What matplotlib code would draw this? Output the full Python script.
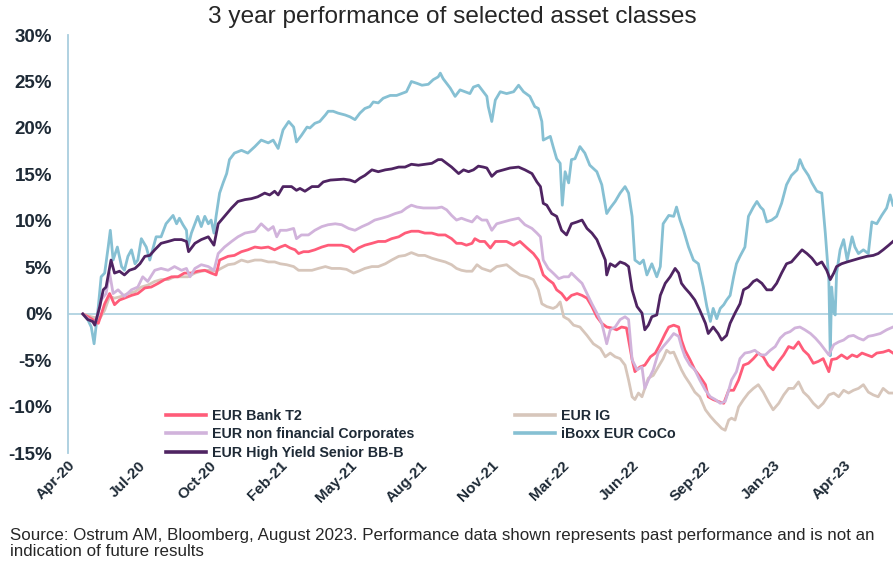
import matplotlib
matplotlib.use('Agg')
import matplotlib.pyplot as plt
from matplotlib.lines import Line2D
from matplotlib.transforms import ScaledTranslation

plt.rcParams['font.family'] = ['Liberation Sans', 'DejaVu Sans']

# ---------------- data (x = days after first axis tick, y = % performance) -------------
TICK_LABELS = ['Apr-20', 'Jul-20', 'Oct-20', 'Feb-21', 'May-21', 'Aug-21', 'Nov-21',
               'Mar-22', 'Jun-22', 'Sep-22', 'Jan-23', 'Apr-23']
TICK_DAYS = [0, 100, 200, 300, 400, 500, 600, 700, 800, 900, 1000, 1100]

coco_days = [21, 28, 33, 37, 43, 47, 52, 57, 60, 64, 70, 76, 80, 85, 90, 95, 99, 104, 111, 116,
             121, 125, 132, 139, 149, 154, 158, 163, 168, 170, 175, 180, 184, 189, 194, 199, 203,
             207, 210, 215, 220, 225, 229, 236, 246, 255, 265, 274, 284, 291, 298, 305, 313, 320,
             324, 331, 339, 343, 350, 357, 365, 369, 376, 383, 393, 400, 407, 414, 421, 428, 433,
             440, 447, 457, 466, 473, 480, 487, 495, 502, 511, 518, 525, 528, 532, 537, 542, 549,
             556, 563, 570, 575, 582, 589, 594, 596, 601, 606, 613, 622, 632, 639, 646, 655, 662,
             667, 672, 674, 679, 684, 688, 693, 698, 701, 705, 710, 714, 719, 726, 733, 740, 750,
             757, 764, 769, 776, 783, 790, 795, 800, 804, 811, 816, 821, 828, 835, 840, 844, 852,
             859, 863, 868, 873, 880, 887, 894, 901, 906, 911, 915, 920, 925, 930, 934, 939, 944,
             948, 953, 960, 965, 972, 977, 982, 986, 991, 998, 1005, 1012, 1019, 1026, 1034, 1038,
             1043, 1050, 1055, 1062, 1069, 1074, 1079, 1081, 1083, 1086, 1088, 1090, 1095, 1100,
             1105, 1112, 1116, 1121, 1128, 1135, 1140, 1147, 1154, 1161, 1166, 1170]
coco_vals = [0.0, -0.6, -1.4, -3.2, 0.8, 4.0, 4.4, 7.2, 9.0, 5.8, 7.2, 5.1, 4.7, 6.2, 6.9, 5.4, 5.8,
             8.1, 7.2, 5.8, 7.2, 8.3, 8.3, 9.7, 10.6, 9.7, 10.3, 9.6, 9.0, 7.2, 8.7, 9.7, 10.5, 9.4,
             10.5, 9.7, 10.1, 8.7, 10.5, 13.0, 14.1, 15.1, 16.6, 17.3, 17.6, 17.3, 18.0, 18.7, 18.4,
             18.7, 17.8, 19.8, 20.7, 20.1, 18.5, 19.2, 20.1, 20.0, 20.5, 20.7, 21.4, 21.8, 21.8, 21.6,
             21.4, 21.2, 20.9, 21.6, 22.1, 22.3, 22.8, 22.7, 23.2, 23.5, 23.5, 23.7, 23.9, 25.0, 24.8,
             24.6, 24.7, 25.2, 25.5, 25.9, 25.3, 24.8, 24.3, 23.4, 24.1, 23.9, 23.7, 24.4, 24.6, 23.9,
             23.4, 22.3, 20.7, 23.0, 23.9, 23.7, 23.9, 24.6, 23.9, 23.4, 22.3, 22.1, 20.7, 18.7, 18.9,
             19.1, 18.0, 16.7, 16.2, 11.7, 15.3, 14.1, 16.6, 16.7, 18.0, 17.3, 16.0, 15.3, 13.9, 10.8,
             11.4, 12.1, 13.0, 13.7, 13.0, 10.5, 5.8, 5.4, 5.8, 4.2, 5.4, 4.0, 5.1, 9.7, 10.6, 10.5,
             11.5, 10.1, 9.0, 7.2, 5.8, 5.4, 2.9, 0.8, -0.8, 0.6, -0.5, 0.6, 1.0, 1.5, 2.0, 4.0, 5.4,
             6.2, 7.2, 10.5, 11.5, 12.1, 11.5, 11.2, 9.9, 10.1, 10.5, 11.9, 13.9, 14.9, 15.5, 16.6,
             15.7, 14.9, 14.1, 13.2, 13.0, 8.7, 3.7, -4.5, 2.9, 0.2, -0.1, 4.4, 6.9, 8.0, 5.8, 8.3,
             7.2, 6.5, 6.9, 6.5, 9.9, 9.7, 10.6, 11.4, 12.8, 11.7]

hy_days = [21, 28, 35, 38, 45, 50, 54, 61, 66, 73, 80, 87, 95, 102, 109, 116, 123, 132, 142, 151,
           161, 168, 171, 180, 189, 199, 207, 213, 222, 232, 241, 251, 260, 269, 279, 286, 293, 298,
           305, 317, 324, 329, 336, 346, 355, 362, 372, 391, 400, 407, 414, 421, 431, 440, 450, 459,
           469, 478, 487, 497, 506, 516, 525, 530, 537, 544, 554, 561, 568, 575, 582, 589, 594, 601,
           608, 627, 639, 648, 658, 665, 670, 674, 679, 686, 693, 700, 707, 714, 722, 729, 736, 743,
           750, 757, 762, 764, 769, 776, 783, 790, 795, 800, 807, 814, 818, 823, 828, 835, 840, 847,
           854, 861, 866, 870, 875, 882, 889, 896, 904, 908, 915, 922, 927, 934, 939, 946, 953, 958,
           965, 972, 977, 984, 991, 998, 1005, 1012, 1019, 1026, 1034, 1041, 1048, 1055, 1062, 1069,
           1076, 1081, 1086, 1090, 1097, 1105, 1114, 1123, 1133, 1142, 1149, 1156, 1164, 1170]
hy_vals = [0.0, -0.6, -0.8, -1.2, 0.8, 2.6, 2.9, 5.8, 4.4, 4.6, 4.2, 4.7, 4.9, 5.4, 6.2, 6.3, 6.9,
           7.6, 7.8, 8.0, 8.0, 7.8, 6.7, 7.6, 8.0, 8.3, 7.4, 9.7, 10.5, 11.4, 12.1, 12.3, 12.4, 12.6,
           13.0, 12.8, 13.2, 12.8, 13.7, 13.7, 13.3, 13.5, 13.2, 13.7, 13.7, 14.2, 14.4, 14.5, 14.4,
           14.2, 14.6, 14.9, 15.5, 15.3, 15.5, 15.6, 15.8, 15.8, 16.1, 16.0, 16.1, 16.2, 16.6, 16.6,
           16.2, 15.8, 15.1, 15.5, 15.3, 15.5, 15.9, 15.8, 15.7, 14.8, 15.3, 15.7, 15.8, 15.5, 15.1,
           14.2, 13.7, 11.9, 11.7, 10.8, 10.5, 9.0, 8.5, 9.7, 9.9, 10.1, 9.2, 8.7, 8.0, 6.7, 5.8, 4.2,
           5.4, 5.1, 5.6, 5.4, 5.1, 2.6, 0.8, 0.1, -1.7, -1.2, -0.3, -0.1, 2.0, 3.3, 4.0, 4.9, 4.4,
           3.3, 2.8, 2.2, 1.5, 0.4, -1.0, -2.1, -1.4, -2.1, -2.8, -2.3, -1.0, 0.1, 1.1, 2.6, 2.9, 3.5,
           3.7, 3.3, 2.6, 2.6, 3.3, 4.4, 5.4, 5.6, 6.3, 6.9, 6.5, 6.0, 5.3, 5.6, 4.7, 3.7, 4.4, 5.1,
           5.4, 5.6, 5.8, 6.0, 6.2, 6.3, 6.5, 6.9, 7.4, 7.8]

nonfin_days = [21, 28, 38, 43, 47, 54, 59, 64, 71, 80, 90, 99, 106, 113, 123, 132, 142, 151, 161,
               168, 173, 180, 189, 199, 207, 213, 222, 232, 241, 251, 265, 274, 284, 291, 296, 301,
               310, 320, 324, 331, 341, 350, 360, 369, 379, 388, 398, 407, 417, 426, 435, 445, 454,
               464, 473, 480, 487, 495, 504, 513, 523, 530, 537, 544, 551, 558, 565, 573, 580, 587,
               594, 601, 608, 627, 639, 648, 658, 665, 670, 674, 681, 688, 696, 703, 710, 714, 722,
               729, 736, 743, 750, 757, 764, 769, 776, 783, 790, 795, 800, 807, 814, 818, 823, 830,
               837, 844, 852, 859, 866, 870, 875, 882, 889, 896, 904, 911, 918, 925, 932, 937, 941,
               948, 953, 960, 967, 974, 982, 989, 996, 1003, 1010, 1017, 1024, 1031, 1038, 1045,
               1053, 1060, 1067, 1074, 1079, 1086, 1093, 1100, 1107, 1114, 1121, 1128, 1135, 1142,
               1152, 1161, 1170]
nonfin_vals = [0.0, -0.5, -1.0, 0.1, 1.5, 2.2, 4.4, 2.2, 2.6, 1.9, 2.6, 2.9, 4.0, 3.5, 4.7, 4.9,
               4.7, 5.1, 4.7, 4.9, 4.0, 4.9, 5.3, 5.1, 4.7, 6.5, 7.2, 7.8, 8.3, 8.7, 8.9, 9.7, 9.0,
               9.4, 8.3, 9.0, 9.0, 9.2, 8.1, 8.5, 8.5, 9.0, 9.4, 9.6, 9.7, 9.6, 9.2, 9.0, 9.4, 9.7,
               10.1, 10.3, 10.5, 10.8, 11.0, 11.4, 11.7, 11.5, 11.4, 11.4, 11.4, 11.5, 11.2, 10.6,
               10.1, 10.3, 10.1, 9.9, 10.5, 10.1, 10.1, 9.0, 9.7, 10.1, 10.3, 9.6, 9.2, 8.7, 8.3, 5.8,
               4.9, 4.4, 3.8, 4.0, 4.0, 4.4, 3.8, 3.3, 2.2, 1.1, 0.1, -1.0, -3.2, -1.7, -1.4, -0.6,
               -0.3, -0.6, -4.9, -6.0, -5.7, -8.0, -7.1, -6.0, -4.2, -3.5, -2.8, -2.1, -2.4, -3.5,
               -4.6, -5.5, -6.0, -7.1, -8.2, -8.9, -9.2, -9.6, -9.4, -8.2, -7.1, -6.2, -4.8, -4.2,
               -4.1, -3.9, -4.4, -4.4, -3.9, -3.5, -2.6, -2.1, -1.9, -1.5, -1.4, -1.7, -2.1, -2.6,
               -3.2, -3.9, -4.4, -3.3, -3.0, -2.8, -2.4, -2.3, -2.6, -2.8, -2.4, -2.3, -2.1, -1.7,
               -1.4]

t2_days = [21, 33, 43, 52, 59, 66, 73, 80, 90, 99, 109, 118, 128, 137, 147, 156, 165, 175, 184,
           194, 203, 210, 215, 227, 236, 246, 255, 265, 274, 284, 293, 301, 308, 315, 322, 327, 334,
           341, 350, 360, 369, 388, 398, 405, 412, 421, 431, 440, 450, 459, 469, 478, 487, 497, 506,
           516, 525, 535, 544, 551, 558, 565, 573, 577, 584, 591, 599, 606, 622, 632, 641, 651, 660,
           667, 674, 681, 688, 693, 700, 707, 714, 722, 729, 736, 743, 750, 757, 764, 771, 778, 785,
           792, 800, 804, 811, 818, 826, 833, 840, 847, 852, 859, 866, 870, 875, 882, 889, 896, 904,
           908, 915, 922, 930, 937, 944, 951, 958, 965, 972, 979, 986, 993, 1000, 1008, 1015, 1022,
           1029, 1036, 1043, 1050, 1057, 1064, 1071, 1079, 1083, 1090, 1097, 1105, 1112, 1119, 1126,
           1133, 1140, 1147, 1156, 1164, 1170]
t2_vals = [0.0, -0.5, -1.0, 1.1, 2.2, 1.0, 1.5, 1.7, 2.0, 2.2, 2.8, 2.9, 3.3, 3.7, 4.0, 4.0, 4.4,
           4.4, 4.6, 4.7, 4.4, 4.2, 5.8, 6.2, 6.3, 6.7, 6.9, 7.2, 7.1, 7.2, 6.9, 7.2, 7.4, 7.1, 6.9,
           6.5, 6.7, 6.7, 6.9, 7.2, 7.4, 7.4, 7.2, 6.7, 7.1, 7.4, 7.6, 7.8, 7.8, 8.1, 8.3, 8.7, 8.9,
           8.9, 8.7, 8.7, 8.5, 8.5, 8.1, 7.6, 7.6, 7.4, 7.6, 8.1, 7.8, 7.8, 7.1, 7.8, 7.8, 7.4, 7.8,
           7.1, 6.5, 5.8, 4.2, 3.7, 3.3, 2.6, 2.2, 1.5, 2.0, 2.2, 2.0, 1.7, 0.8, -0.3, -1.0, -1.4,
           -1.5, -1.7, -1.4, -1.5, -4.9, -6.2, -5.7, -5.5, -4.6, -4.2, -3.2, -2.1, -1.4, -1.2, -1.4,
           -2.8, -3.9, -4.9, -6.0, -6.7, -7.6, -8.9, -9.2, -9.4, -9.6, -8.2, -8.2, -7.1, -5.5, -5.3,
           -4.8, -4.2, -4.6, -5.5, -6.0, -5.1, -4.4, -3.5, -3.7, -3.0, -3.9, -4.4, -5.3, -5.1, -4.8,
           -6.2, -4.9, -4.8, -4.4, -4.8, -4.4, -4.6, -4.2, -4.4, -4.6, -4.2, -4.1, -3.9, -4.2]

ig_days = [21, 33, 45, 52, 59, 66, 76, 85, 95, 104, 113, 123, 132, 142, 151, 161, 170, 180, 189,
           199, 210, 217, 227, 236, 246, 255, 265, 274, 284, 293, 301, 310, 320, 327, 336, 346, 355,
           365, 374, 386, 395, 405, 412, 421, 431, 440, 450, 459, 469, 478, 487, 497, 506, 516, 525,
           535, 544, 551, 558, 565, 573, 580, 587, 599, 608, 622, 632, 641, 651, 660, 667, 672, 679,
           688, 693, 698, 703, 710, 717, 726, 736, 745, 755, 762, 769, 776, 783, 790, 795, 800, 804,
           809, 814, 818, 823, 830, 837, 844, 849, 854, 859, 863, 870, 875, 882, 889, 896, 904, 911,
           918, 922, 927, 932, 937, 941, 946, 951, 958, 965, 972, 979, 986, 993, 1000, 1008, 1015,
           1022, 1029, 1036, 1043, 1050, 1057, 1064, 1071, 1079, 1086, 1093, 1100, 1107, 1114, 1121,
           1128, 1135, 1142, 1149, 1156, 1164, 1170]
ig_vals = [0.0, -0.3, -0.5, 0.4, 1.9, 1.7, 1.9, 2.2, 2.4, 2.9, 3.1, 3.5, 3.7, 3.7, 4.0, 4.0, 4.0,
           4.4, 4.6, 4.7, 4.6, 4.9, 5.3, 5.4, 5.8, 5.6, 5.8, 5.8, 5.6, 5.6, 5.4, 5.3, 5.1, 4.7, 4.7,
           4.7, 4.9, 5.1, 4.9, 4.9, 4.8, 4.4, 4.6, 4.9, 5.1, 5.1, 5.4, 5.8, 6.2, 6.3, 6.6, 6.3, 6.3,
           6.0, 5.8, 5.6, 5.3, 4.9, 4.7, 4.6, 4.6, 5.3, 4.9, 4.6, 5.1, 5.3, 4.7, 4.2, 4.0, 3.7, 2.6,
           1.1, 0.8, 0.6, 0.8, 1.3, -0.3, -0.6, -1.2, -1.4, -2.3, -3.2, -3.7, -4.6, -4.2, -4.6,
           -4.8, -5.5, -7.1, -8.9, -9.2, -8.5, -8.9, -8.0, -6.9, -6.6, -5.7, -4.8, -3.9, -4.2, -4.1,
           -4.8, -6.0, -6.7, -7.5, -8.4, -8.9, -10.3, -11.0, -11.6, -11.9, -12.3, -12.5, -11.4,
           -11.2, -11.4, -10.0, -9.2, -8.5, -8.0, -7.6, -8.4, -9.4, -10.3, -9.6, -8.7, -8.0, -8.0,
           -7.3, -8.4, -8.9, -9.6, -10.1, -9.6, -8.7, -8.5, -8.9, -8.2, -8.5, -8.2, -8.0, -7.6,
           -8.4, -8.7, -8.9, -8.0, -8.5, -8.5]

SERIES_LABELS = ['EUR Bank T2', 'EUR non financial Corporates', 'EUR High Yield Senior BB-B',
                 'EUR IG', 'iBoxx EUR CoCo']

# ---------------- styling ----------------
C_T2 = '#FF5C79'
C_NONFIN = '#D1B3DB'
C_HY = '#4F2462'
C_IG = '#D7C6BB'
C_COCO = '#86C0D3'
AXIS_C = '#A9CEDE'
TXT_C = '#1E2A36'
LW = 2.0

W, H = 893, 561
fig = plt.figure(figsize=(W / 100, H / 100), dpi=100)
ax = fig.add_axes([68 / W, 1 - 453.5 / H, (W - 68) / W, (453.5 - 35) / H])
ax.set_xlim(0, 1170)
ax.set_ylim(-15, 30)

for s in ['top', 'right', 'bottom']:
    ax.spines[s].set_visible(False)
ax.spines['left'].set_color(AXIS_C)
ax.spines['left'].set_linewidth(1.3)
ax.axhline(0, color=AXIS_C, lw=1.2, zorder=1)

ax.plot(coco_days, coco_vals, color=C_COCO, lw=LW, zorder=2)
ax.plot(ig_days, ig_vals, color=C_IG, lw=LW, zorder=3)
ax.plot(t2_days, t2_vals, color=C_T2, lw=LW, zorder=4)
ax.plot(nonfin_days, nonfin_vals, color=C_NONFIN, lw=LW, zorder=5)
ax.plot(hy_days, hy_vals, color=C_HY, lw=LW, zorder=6)

yt = list(range(-15, 31, 5))
ax.set_yticks(yt)
ax.set_yticklabels([f'{v}%' for v in yt], fontsize=13.5, fontweight='bold', color=TXT_C)
ax.tick_params(axis='y', length=0, pad=11.5)

ax.set_xticks(TICK_DAYS)
ax.set_xticklabels(TICK_LABELS, rotation=45, ha='right', va='center', rotation_mode='anchor',
                   fontsize=11, fontweight='bold', color=TXT_C)
ax.tick_params(axis='x', length=0, pad=7)
off = ScaledTranslation(5 / 100, 0, fig.dpi_scale_trans)
for lab in ax.get_xticklabels():
    lab.set_transform(lab.get_transform() + off)

handles = [Line2D([], [], color=c, lw=2.6) for c in [C_T2, C_NONFIN, C_HY, C_IG, C_COCO]]
leg = fig.legend(handles, SERIES_LABELS, ncol=2, loc='upper left',
                 bbox_to_anchor=(166 / W, 1 - 409 / H), frameon=False,
                 prop={'size': 10.3, 'weight': 'bold'}, handlelength=2.8, handletextpad=0.4,
                 columnspacing=7.05, labelspacing=0.3, borderpad=0, borderaxespad=0)
for t in leg.get_texts():
    t.set_color(TXT_C)

fig.text(0.506, 1 - 17 / H, '3 year performance of selected asset classes', ha='center',
         va='center', fontsize=17.6, color='#262626')
fig.text(10 / W, 1 - 528 / H,
         'Source: Ostrum AM, Bloomberg, August 2023. Performance data shown represents past '
         'performance and is not an\nindication of future results',
         ha='left', va='top', fontsize=12.2, color='#262626', linespacing=1.06)

fig.savefig('out.png', dpi=100)
